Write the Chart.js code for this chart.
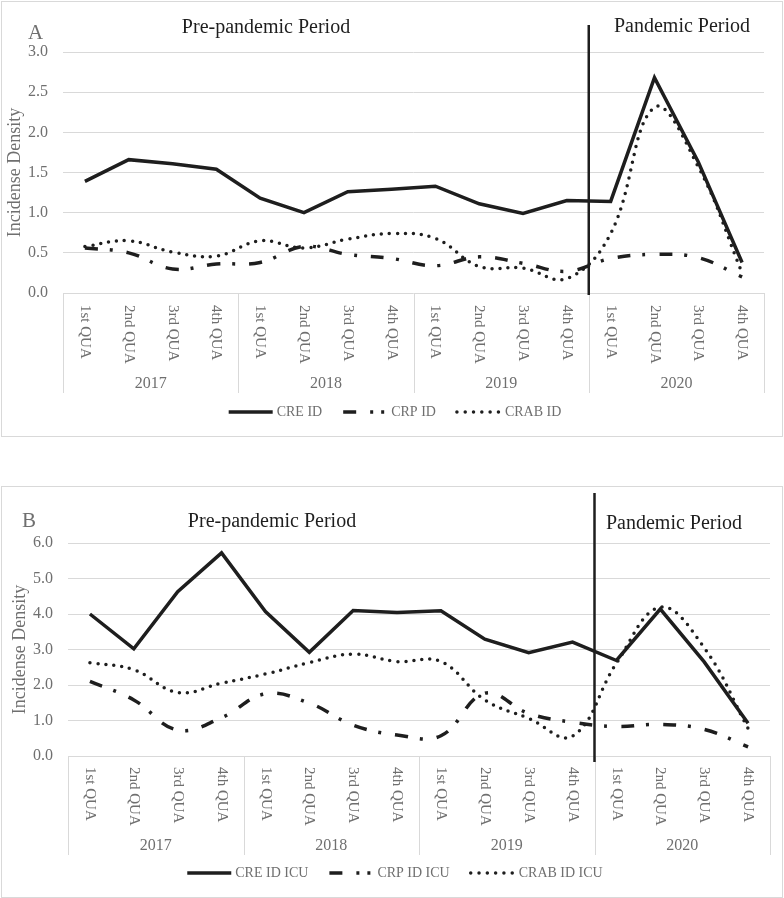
<!DOCTYPE html>
<html>
<head>
<meta charset="utf-8">
<script src="https://cdn.jsdelivr.net/npm/chart.js@4.4.1/dist/chart.umd.min.js"></script>
<style>
  body { margin: 0; background: #fff; }
  .panel { position: absolute; left: 1px; width: 780px; border: 1px solid #d9d9d9; }
  canvas { display: block; }
</style>
</head>
<body>
<div class="panel" style="top:1px;height:434px"><canvas id="chartA" width="780" height="434"></canvas></div>
<div class="panel" style="top:486px;height:410px"><canvas id="chartB" width="780" height="410"></canvas></div>
<script>
// quarter labels (16 categories) and years
var quarterLabels = ['1st QUA', '2nd QUA', '3rd QUA', '4th QUA',
                     '1st QUA', '2nd QUA', '3rd QUA', '4th QUA',
                     '1st QUA', '2nd QUA', '3rd QUA', '4th QUA',
                     '1st QUA', '2nd QUA', '3rd QUA', '4th QUA'];
var years = ['2017', '2018', '2019', '2020'];

// panel A: incidence density
var creA  = [1.39, 1.66, 1.61, 1.54, 1.18, 1.00, 1.26, 1.29, 1.33, 1.11, 0.99, 1.15, 1.14, 2.68, 1.63, 0.38];
var crpA  = [0.56, 0.50, 0.30, 0.36, 0.38, 0.58, 0.48, 0.43, 0.34, 0.45, 0.37, 0.27, 0.43, 0.48, 0.44, 0.20];
var crabA = [0.58, 0.65, 0.51, 0.46, 0.65, 0.56, 0.67, 0.74, 0.68, 0.33, 0.31, 0.18, 0.74, 2.31, 1.57, 0.25];

// panel B: incidence density ICU
var creB  = [4.00, 3.02, 4.63, 5.72, 4.07, 2.92, 4.10, 4.04, 4.09, 3.29, 2.91, 3.21, 2.69, 4.14, 2.65, 0.92];
var crpB  = [2.10, 1.58, 0.73, 1.08, 1.75, 1.49, 0.87, 0.59, 0.57, 1.77, 1.20, 0.95, 0.83, 0.89, 0.75, 0.26];
var crabB = [2.63, 2.43, 1.79, 2.05, 2.31, 2.63, 2.87, 2.66, 2.66, 1.58, 1.06, 0.56, 2.61, 4.19, 3.05, 0.78];

var seriesNamesA = ['CRE ID', 'CRP ID', 'CRAB ID'];
var seriesNamesB = ['CRE ID ICU', 'CRP ID ICU', 'CRAB ID ICU'];

Chart.defaults.font.family = "'Liberation Serif', 'Times New Roman', serif";
Chart.defaults.animation = false;

var INK = '#1e1e1e';
var GREY = '#6f6f6f';
var GRID = '#d9d9d9';

function makeDatasets(names, cre, crp, crab) {
    return [
        { label: names[0], data: cre, borderColor: INK, borderWidth: 3.5, tension: 0,
          pointRadius: 0, legendDash: [] },
        { label: names[1], data: crp, borderColor: INK, borderWidth: 3.5, tension: 0.4,
          borderDash: [13, 12, 3, 14], pointRadius: 0, legendDash: [13, 14, 3, 8, 3, 100] },
        { label: names[2], data: crab, borderColor: INK, borderWidth: 3.5, tension: 0.4,
          borderDash: [0, 8], borderCapStyle: 'round', pointRadius: 0, legendDash: [0, 8.3], legendCap: 'round' }
    ];
}

// draws the two-level category axis, period labels, divider and legend
function decorPlugin(o) {
    return {
        id: 'decor',
        afterDraw: function(chart) {
            var ctx = chart.ctx, area = chart.chartArea, xs = chart.scales.x;
            var px = function(i) { return xs.getPixelForValue(i); };
            var half = (px(1) - px(0)) / 2;
            var edge = function(i) { return i < 16 ? px(i) - half : px(15) + half; };
            ctx.save();

            // year box separators
            ctx.strokeStyle = GRID;
            ctx.lineWidth = 1;
            for (var k = 0; k <= 16; k += 4) {
                var ex = Math.round(edge(k)) + 0.5;
                ctx.beginPath();
                ctx.moveTo(ex, area.bottom);
                ctx.lineTo(ex, o.sepBottom);
                ctx.stroke();
            }

            // rotated quarter labels
            ctx.fillStyle = GREY;
            ctx.font = "15px 'Liberation Serif'";
            ctx.textAlign = 'left';
            ctx.textBaseline = 'middle';
            quarterLabels.forEach(function(lab, i) {
                ctx.save();
                ctx.translate(px(i), area.bottom + o.labelGap);
                ctx.rotate(Math.PI / 2);
                ctx.fillText(lab, 0, 0);
                ctx.restore();
            });

            // year labels
            ctx.font = "16px 'Liberation Serif'";
            ctx.textAlign = 'center';
            years.forEach(function(y, j) {
                ctx.fillText(y, (edge(j * 4) + edge(j * 4 + 4)) / 2, o.yearY);
            });

            // pandemic divider
            var dx = edge(12);
            ctx.strokeStyle = INK;
            ctx.lineWidth = 2.5;
            ctx.beginPath();
            ctx.moveTo(dx, o.divTop);
            ctx.lineTo(dx, o.divBottom);
            ctx.stroke();

            // panel letter and period titles
            ctx.textBaseline = 'alphabetic';
            ctx.textAlign = 'left';
            ctx.fillStyle = GREY;
            ctx.font = "21px 'Liberation Serif'";
            ctx.fillText(o.letter, o.letterX, o.letterY);
            ctx.fillStyle = INK;
            ctx.font = "20px 'Liberation Serif'";
            ctx.textAlign = 'center';
            ctx.fillText('Pre-pandemic Period', o.preX, o.preY);
            ctx.fillText('Pandemic Period', o.panX, o.panY);

            // legend
            ctx.font = "14px 'Liberation Serif'";
            ctx.textAlign = 'left';
            ctx.textBaseline = 'middle';
            var sample = 44, gap = 4, itemGap = 21;
            var sets = chart.data.datasets;
            var total = 0;
            sets.forEach(function(ds, i) {
                total += sample + gap + ctx.measureText(ds.label).width + (i < sets.length - 1 ? itemGap : 0);
            });
            var lx = chart.width / 2 + 3 - total / 2;
            sets.forEach(function(ds) {
                ctx.strokeStyle = INK;
                ctx.lineWidth = 3.5;
                ctx.setLineDash(ds.legendDash);
                ctx.lineCap = ds.legendCap || 'butt';
                ctx.beginPath();
                ctx.moveTo(lx, o.legendY);
                ctx.lineTo(lx + sample, o.legendY);
                ctx.stroke();
                ctx.setLineDash([]);
                ctx.fillStyle = GREY;
                ctx.fillText(ds.label, lx + sample + gap, o.legendY);
                lx += sample + gap + ctx.measureText(ds.label).width + itemGap;
            });
            ctx.restore();
        }
    };
}

function makeChart(id, datasets, yMax, yStep, yWidth, titlePad, padding, deco) {
    var ctx = document.getElementById(id).getContext('2d');
    return new Chart(ctx, {
        type: 'line',
        data: { labels: quarterLabels, datasets: datasets },
        options: {
            responsive: false,
            layout: { padding: padding },
            plugins: { legend: { display: false }, tooltip: { enabled: false } },
            scales: {
                x: { display: false, offset: true, ticks: { autoSkip: false } },
                y: {
                    min: 0, max: yMax,
                    ticks: { stepSize: yStep, padding: 15, color: GREY, font: { size: 16 },
                             callback: function(v) { return v.toFixed(1); } },
                    grid: { color: GRID, drawTicks: false },
                    border: { display: false },
                    title: { display: true, text: 'Incidense Density', color: GREY,
                             font: { size: 18 }, padding: { top: titlePad, bottom: 0 } },
                    afterFit: function(scale) { scale.width = yWidth; }
                }
            }
        },
        plugins: [decorPlugin(deco)]
    });
}

makeChart('chartA', makeDatasets(seriesNamesA, creA, crpA, crabA), 3, 0.5, 61, 2,
    { top: 50, right: 18, bottom: 143, left: 0 },
    { letter: 'A', letterX: 26, letterY: 37, preX: 264, preY: 31, panX: 680, panY: 30,
      divTop: 23, divBottom: 293, sepBottom: 391, labelGap: 12, yearY: 382, legendY: 410 });

makeChart('chartB', makeDatasets(seriesNamesB, creB, crpB, crabB), 6, 1, 66, 7,
    { top: 56, right: 12, bottom: 141, left: 0 },
    { letter: 'B', letterX: 20, letterY: 40, preX: 270, preY: 40, panX: 672, panY: 42,
      divTop: 6, divBottom: 275, sepBottom: 368, labelGap: 11, yearY: 359, legendY: 386 });
</script>
</body>
</html>
